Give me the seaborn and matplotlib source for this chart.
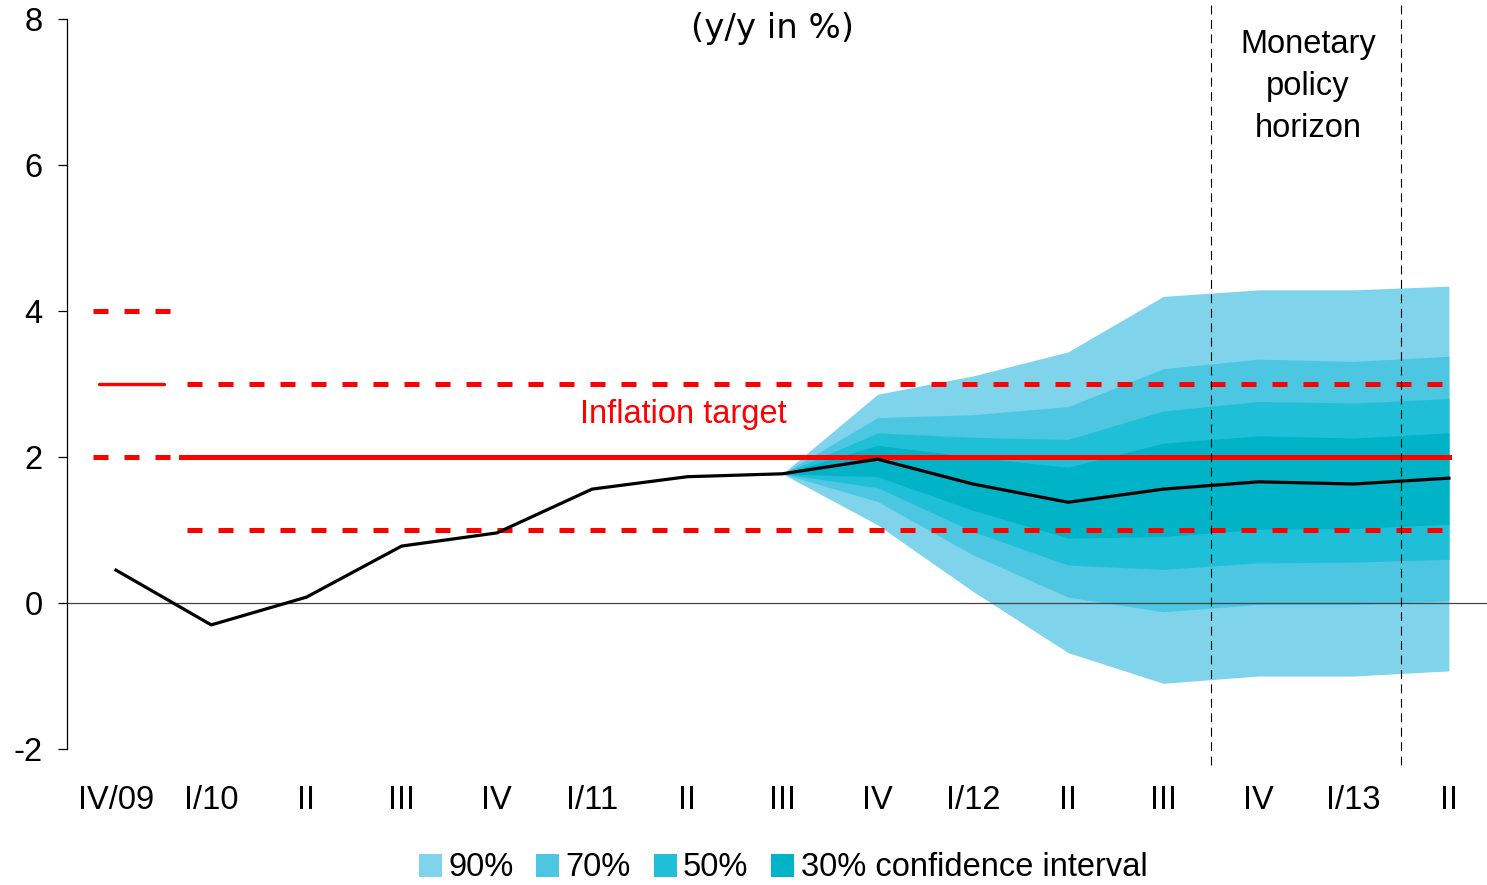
import numpy as np
import pandas as pd
import seaborn as sns
import matplotlib.pyplot as plt
from matplotlib.patches import Patch

# quarters on the x axis
quarters = ['IV/09', 'I/10', 'II', 'III', 'IV', 'I/11', 'II', 'III',
            'IV', 'I/12', 'II', 'III', 'IV', 'I/13', 'II']
# inflation y/y in %, actual + central projection
inflation = [0.45, -0.30, 0.08, 0.78, 0.96, 1.56, 1.73, 1.77,
             1.97, 1.63, 1.38, 1.56, 1.66, 1.63, 1.71]

# fan chart bands (from III/11 to II/13)
fan_start = 7
lo90 = [1.77, 1.07, 0.16, -0.68, -1.10, -1.00, -1.00, -0.93]
hi90 = [1.77, 2.86, 3.11, 3.44, 4.20, 4.29, 4.29, 4.34]
lo70 = [1.77, 1.39, 0.66, 0.08, -0.12, -0.02, -0.02, 0.03]
hi70 = [1.77, 2.54, 2.58, 2.69, 3.21, 3.34, 3.31, 3.38]
lo50 = [1.77, 1.58, 0.98, 0.52, 0.46, 0.55, 0.56, 0.60]
hi50 = [1.77, 2.33, 2.27, 2.24, 2.63, 2.76, 2.74, 2.80]
lo30 = [1.77, 1.73, 1.27, 0.89, 0.91, 1.01, 1.02, 1.08]
hi30 = [1.77, 2.16, 2.00, 1.86, 2.19, 2.29, 2.26, 2.33]

band_labels = ['90%', '70%', '50%', '30% confidence interval']
band_colors = ['#7fd4ec', '#4cc6e1', '#20bfd8', '#00b3c6']

target = 2.0
tolerance = 1.0
old_target = 3.0

df = pd.DataFrame({'x': np.arange(len(quarters)), 'inflation': inflation})

plt.rcParams['font.family'] = ['Liberation Sans', 'DejaVu Sans']
plt.rcParams['axes.unicode_minus'] = False
fs = 23.5

fig = plt.figure(figsize=(14.87, 8.85), dpi=100)
ax = fig.add_axes([67 / 1487, 1 - 749 / 885, 1 - 67 / 1487, 730 / 885])

fx = np.arange(fan_start, len(quarters))
for (lo, hi), col in zip([(lo90, hi90), (lo70, hi70), (lo50, hi50), (lo30, hi30)], band_colors):
    ax.fill_between(fx, lo, hi, color=col, lw=0, zorder=1)

ax.axhline(0, color='#444444', lw=0.9, zorder=2)

# inflation target and tolerance band
red = '#ff0000'
ax.plot([0.68, 14.0], [target, target], color=red, lw=3.6, zorder=3)
for lvl in [target - tolerance, target + tolerance]:
    ax.plot([0.75, 14.0], [lvl, lvl], color=red, lw=3.6, dashes=(3, 3.2), zorder=3)
# previous target (3% +/- 1pp)
for lvl in [old_target - 1, old_target + 1]:
    ax.plot([-0.24, 0.6], [lvl, lvl], color=red, lw=3.6, dashes=(3, 3.2), zorder=3)
ax.plot([-0.18, 0.5], [old_target, old_target], color=red, lw=2.4,
        solid_capstyle='round', zorder=3)

sns.lineplot(data=df, x='x', y='inflation', color='black', lw=2.3, ax=ax, zorder=4)

# monetary policy horizon
ax.vlines([11.5, 13.5], -2.22, 8.26, colors='black', lw=0.8,
          linestyles=(0, (8, 5)), clip_on=False, zorder=5)

ax.text(6.9, 7.87, '(y/y in %)', ha='center', va='center', fontsize=24.5,
        family=['DejaVu Sans'])
ax.text(12.52, 7.86, 'Monetary\npolicy\nhorizon', ha='center', va='top',
        fontsize=fs, linespacing=1.45)
ax.text(5.96, 2.58, 'Inflation target', ha='center', va='center', fontsize=fs, color=red)

ax.set_xlim(-0.515, 14.4)
ax.set_ylim(-2, 8)
ax.set_xticks(np.arange(len(quarters)))
ax.set_xticklabels(quarters)
ax.set_yticks([-2, 0, 2, 4, 6, 8])
ax.tick_params(axis='x', length=0, pad=26, labelsize=fs)
ax.tick_params(axis='y', length=6.5, width=0.9, pad=11, labelsize=fs)
ax.set_xlabel('')
ax.set_ylabel('')
for s in ['top', 'right', 'bottom']:
    ax.spines[s].set_visible(False)
ax.spines['left'].set_linewidth(0.9)

handles = [Patch(facecolor=c, edgecolor='none') for c in band_colors]
fig.legend(handles, band_labels, loc='center', bbox_to_anchor=(783 / 1487, 1 - 868 / 885),
           ncol=4, frameon=False, fontsize=fs, handlelength=0.7, handleheight=0.7,
           handletextpad=0.2, columnspacing=0.7, borderpad=0)

fig.savefig('out.png', dpi=100)
